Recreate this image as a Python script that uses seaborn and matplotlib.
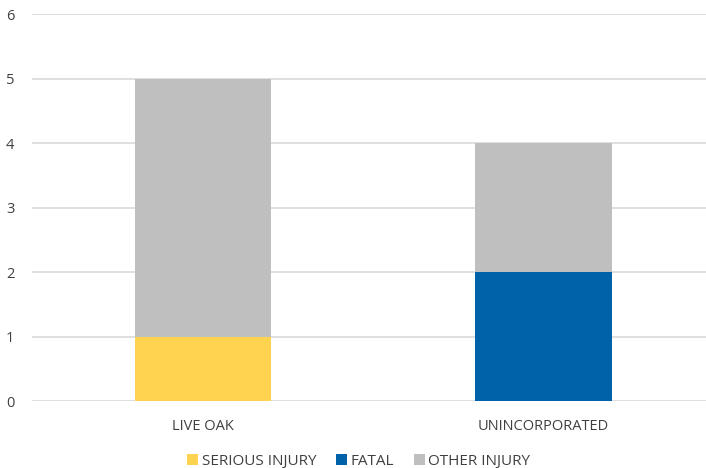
import numpy as np
import matplotlib
matplotlib.use("Agg")
import matplotlib.pyplot as plt
import seaborn as sns

# data
places = ["LIVE OAK", "UNINCORPORATED"]
serious_injury = [1, 0]
fatal = [0, 2]
other_injury = [4, 2]

sns.set_style("white")
plt.rcParams['font.family'] = ['Open Sans', 'DejaVu Sans']

fig = plt.figure(figsize=(7.06, 4.68), dpi=100)
ax = fig.add_axes([0.046, 0.143, 0.965, 0.827])

bot_fatal = np.array(serious_injury)
bot_other = bot_fatal + np.array(fatal)

sns.barplot(x=places, y=serious_injury, color="#FFD24F", width=0.40, linewidth=0,
            label="SERIOUS INJURY", ax=ax, saturation=1, zorder=3)
sns.barplot(x=places, y=fatal, bottom=bot_fatal, color="#0062A8", width=0.40, linewidth=0,
            label="FATAL", ax=ax, saturation=1, zorder=3)
sns.barplot(x=places, y=other_injury, bottom=bot_other, color="#BFBFBF", width=0.40, linewidth=0,
            label="OTHER INJURY", ax=ax, saturation=1, zorder=3)

ax.set_ylim(0, 6)
ax.set_xlim(-0.5, 1.5)
ax.set_yticks(range(0, 7))
ax.yaxis.grid(True, color="#D9D9D9", linewidth=1.2, zorder=0)
ax.set_axisbelow(True)
sns.despine(ax=ax, left=True, bottom=True, top=True, right=True)
ax.tick_params(axis="both", length=0, labelsize=10.5, colors="#404040")
ax.tick_params(axis="x", pad=13)
ax.tick_params(axis="y", pad=13)

ax.legend(loc="upper center", bbox_to_anchor=(0.479, -0.10), ncol=3, frameon=False,
          fontsize=11, handlelength=0.7, handleheight=0.7, handletextpad=0.25,
          columnspacing=1.3, labelcolor="#404040")

fig.savefig("out.png", dpi=100)
